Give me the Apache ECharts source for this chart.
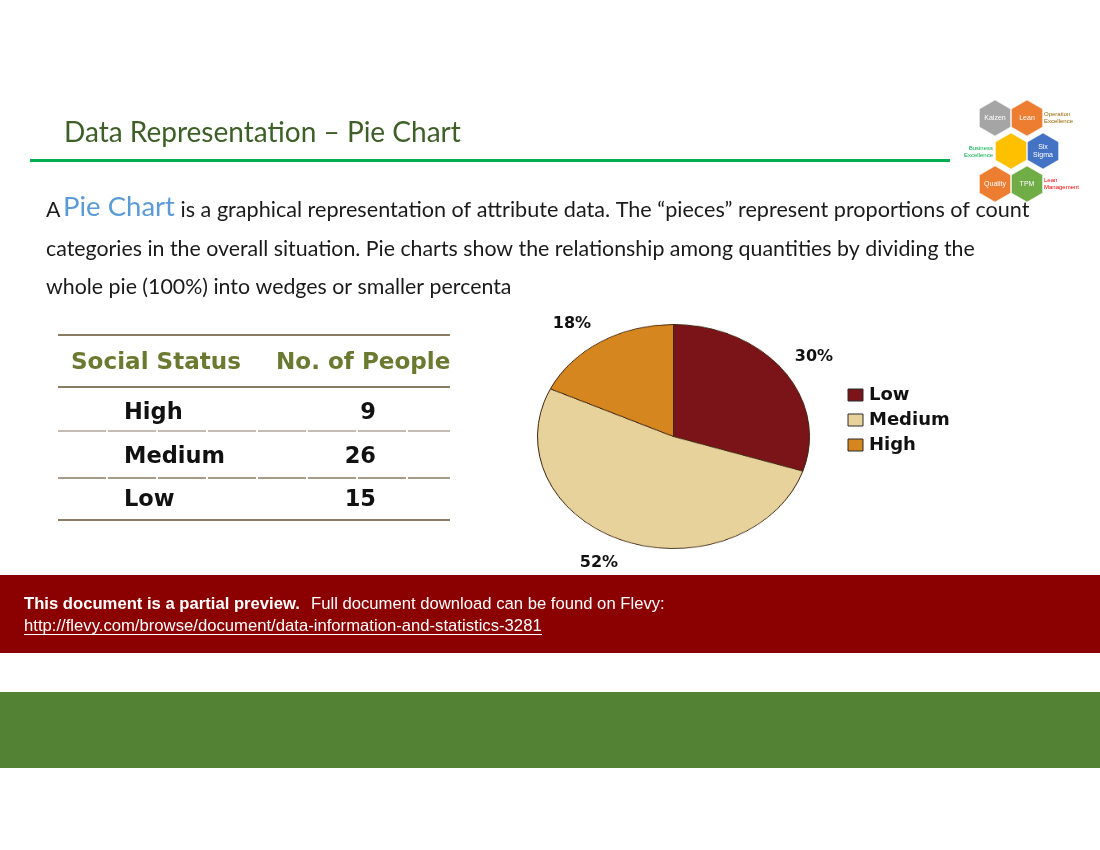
<!DOCTYPE html>
<html><head><meta charset="utf-8">
<script src="https://cdn.jsdelivr.net/npm/echarts@6/dist/echarts.min.js"></script>
<style>
html,body{margin:0;padding:0;background:#fff;overflow:hidden;}
#main{position:absolute;left:0;top:0;width:1100px;height:850px;}
#pie{position:absolute;left:533px;top:296px;width:281px;height:281px;transform:scaleY(0.824);transform-origin:50% 50%;}
</style></head><body>
<div id="main"></div><div id="pie"></div>
<script>
// ---------- data ----------
const categories = ['Low', 'Medium', 'High'];
const counts = [15, 26, 9];
const sliceColors = ['#7B1418', '#E6D29A', '#D6861E'];
const tableHeaders = ['Social Status', 'No. of People'];
const tableRows = ['High', 'Medium', 'Low'];
const tableCounts = [9, 26, 15];
const titleText = 'Data Representation \u2013 Pie Chart';
const bodyLines = [
  ' is a graphical representation of attribute data. The \u201cpieces\u201d represent proportions of count',
  'categories in the overall situation. Pie charts show the relationship among quantities by dividing the',
  'whole pie (100%) into wedges or smaller percenta'
];
const logoCells = [
  {name: 'Kaizen', color: '#A5A5A5', cx: 995, cy: 118},
  {name: 'Lean', color: '#ED7D31', cx: 1027, cy: 118},
  {name: '', color: '#FFC000', cx: 1011, cy: 151},
  {name: 'Six\nSigma', color: '#4472C4', cx: 1043, cy: 151},
  {name: 'Quality', color: '#ED7D31', cx: 995, cy: 184},
  {name: 'TPM', color: '#70AD47', cx: 1027, cy: 184}
];

// ---------- helpers ----------
const mctx = document.createElement('canvas').getContext('2d');
function fit(text, weight, family, target) {
  mctx.font = weight + ' 100px ' + family;
  return 100 * target / mctx.measureText(text).width;
}
function measure(text, weight, size, family) {
  mctx.font = weight + ' ' + size + 'px ' + family;
  return mctx.measureText(text).width;
}
function hexPoints(cx, cy, r) {
  const pts = [];
  for (let i = 0; i < 6; i++) {
    const a = Math.PI / 180 * (60 * i - 90);
    pts.push([cx + r * Math.cos(a), cy + r * Math.sin(a)]);
  }
  return pts;
}

const BODY = 'Lato';
const titleSize = fit(titleText, 'normal', BODY, 397);
const bodySize = fit(bodyLines[1], 'normal', BODY, 929);
const line1Size = fit(bodyLines[0], 'normal', BODY, 855);
const pieWordSize = fit('Pie Chart', 'normal', BODY, 112);
const tblFont = 'DejaVu Sans';
const headSize = fit(tableHeaders[0], 'bold', tblFont, 170);
const rowSize = fit('Medium', 'bold', tblFont, 101);
const LS = '"Liberation Sans"';
const bannerBold = 'This document is a partial preview.';
const bannerNorm = 'Full document download can be found on Flevy:';
const link = 'http://flevy.com/browse/document/data-information-and-statistics-3281';
const boldSize = fit(bannerBold, 'bold', LS, 276);
const normSize = fit(bannerNorm, 'normal', LS, 354);
const linkSize = fit(link, 'normal', LS, 518);

const g = [];
// title & rule
g.push({type: 'text', x: 64, y: 133, style: {text: titleText, fill: '#3E6028', font: 'normal ' + titleSize.toFixed(2) + 'px ' + BODY, verticalAlign: 'middle'}});
g.push({type: 'rect', shape: {x: 30, y: 159, width: 920, height: 3}, style: {fill: '#00B050'}});

// body text
g.push({type: 'text', x: 46, y: 210, style: {text: 'A', fill: '#1a1a1a', font: 'normal ' + bodySize.toFixed(2) + 'px ' + BODY, verticalAlign: 'middle'}});
g.push({type: 'text', x: 63, y: 207, style: {text: 'Pie Chart', fill: '#5B9BD5', font: 'normal ' + pieWordSize.toFixed(2) + 'px ' + BODY, verticalAlign: 'middle'}});
g.push({type: 'text', x: 175, y: 210, style: {text: bodyLines[0], fill: '#1a1a1a', font: 'normal ' + line1Size.toFixed(2) + 'px ' + BODY, verticalAlign: 'middle'}});
g.push({type: 'text', x: 46, y: 249, style: {text: bodyLines[1], fill: '#1a1a1a', font: 'normal ' + bodySize.toFixed(2) + 'px ' + BODY, verticalAlign: 'middle'}});
g.push({type: 'text', x: 46, y: 287, style: {text: bodyLines[2], fill: '#1a1a1a', font: 'normal ' + bodySize.toFixed(2) + 'px ' + BODY, verticalAlign: 'middle'}});

// logo
logoCells.forEach(c => {
  g.push({type: 'polygon', shape: {points: hexPoints(c.cx, c.cy, 18)}, style: {fill: c.color, stroke: '#fff', lineWidth: 0.5}});
  if (c.name) g.push({type: 'text', x: c.cx, y: c.cy, style: {text: c.name, fill: '#fff', font: '7px ' + LS, align: 'center', verticalAlign: 'middle', lineHeight: 8}});
});
g.push({type: 'text', x: 1044, y: 118, style: {text: 'Operation\nExcellence', fill: '#9C6500', font: '6px ' + LS, verticalAlign: 'middle', lineHeight: 7}});
g.push({type: 'text', x: 993, y: 152, style: {text: 'Business\nExcellence', fill: '#00B050', font: '6px ' + LS, align: 'right', verticalAlign: 'middle', lineHeight: 7}});
g.push({type: 'text', x: 1044, y: 184, style: {text: 'Lean\nManagement', fill: '#FF0000', font: '6px ' + LS, verticalAlign: 'middle', lineHeight: 7}});

// table
const lineCol = '#8A7B63';
g.push({type: 'rect', shape: {x: 58, y: 334, width: 392, height: 2}, style: {fill: lineCol}});
g.push({type: 'rect', shape: {x: 58, y: 386, width: 392, height: 2}, style: {fill: lineCol}});
g.push({type: 'line', shape: {x1: 58, y1: 431, x2: 450, y2: 431}, style: {stroke: lineCol, lineWidth: 1.2, lineDash: [48, 2]}});
g.push({type: 'line', shape: {x1: 58, y1: 478, x2: 450, y2: 478}, style: {stroke: lineCol, lineWidth: 1.6, lineDash: [48, 2]}});
g.push({type: 'rect', shape: {x: 58, y: 519, width: 392, height: 2}, style: {fill: lineCol}});
g.push({type: 'text', x: 71, y: 363, style: {text: tableHeaders[0], fill: '#6B7A30', font: 'bold ' + headSize.toFixed(2) + 'px "' + tblFont + '"', verticalAlign: 'middle'}});
g.push({type: 'text', x: 276, y: 363, style: {text: tableHeaders[1], fill: '#6B7A30', font: 'bold ' + headSize.toFixed(2) + 'px "' + tblFont + '"', verticalAlign: 'middle'}});
const rowY = [413, 457, 500];
tableRows.forEach((r, i) => {
  g.push({type: 'text', x: 124, y: rowY[i], style: {text: r, fill: '#111', font: 'bold ' + rowSize.toFixed(2) + 'px "' + tblFont + '"', verticalAlign: 'middle'}});
  g.push({type: 'text', x: 376, y: rowY[i], style: {text: String(tableCounts[i]), fill: '#111', font: 'bold ' + rowSize.toFixed(2) + 'px "' + tblFont + '"', align: 'right', verticalAlign: 'middle'}});
});

// pie percentage labels (computed from data)
const total = counts.reduce((a, b) => a + b, 0);
const labelPos = {Low: [814, 357], Medium: [599, 563], High: [572, 324]};
categories.forEach((c, i) => {
  const p = Math.round(counts[i] / total * 100) + '%';
  g.push({type: 'text', x: labelPos[c][0], y: labelPos[c][1], style: {text: p, fill: '#111', font: 'bold 16px "DejaVu Sans"', align: 'center', verticalAlign: 'middle'}});
});
// legend
const legY = [395, 420, 445];
categories.forEach((c, i) => {
  g.push({type: 'rect', shape: {x: 848, y: legY[i] - 6, width: 15, height: 12}, style: {fill: sliceColors[i], stroke: '#2a2a2a', lineWidth: 1}});
  g.push({type: 'text', x: 869, y: legY[i], style: {text: c, fill: '#111', font: 'bold 18px "DejaVu Sans"', verticalAlign: 'middle'}});
});

// preview banner
g.push({type: 'rect', shape: {x: 0, y: 575, width: 1100, height: 78}, style: {fill: '#8B0000'}});
g.push({type: 'text', x: 24, y: 604, style: {text: bannerBold, fill: '#fff', font: 'bold ' + boldSize.toFixed(2) + 'px ' + LS, verticalAlign: 'middle'}});
g.push({type: 'text', x: 311, y: 604, style: {text: bannerNorm, fill: '#fff', font: 'normal ' + normSize.toFixed(2) + 'px ' + LS, verticalAlign: 'middle'}});
g.push({type: 'text', x: 24, y: 626, style: {text: link, fill: '#fff', font: 'normal ' + linkSize.toFixed(2) + 'px ' + LS, verticalAlign: 'middle'}});
g.push({type: 'rect', shape: {x: 24, y: 634, width: 518, height: 1}, style: {fill: '#fff'}});
// green band
g.push({type: 'rect', shape: {x: 0, y: 692, width: 1100, height: 76}, style: {fill: '#548235'}});

const main = echarts.init(document.getElementById('main'), null, {renderer: 'canvas'});
main.setOption({animation: false, backgroundColor: '#fff', graphic: {elements: g}});

const pie = echarts.init(document.getElementById('pie'), null, {renderer: 'canvas'});
pie.setOption({
  animation: false,
  series: [{
    type: 'pie', center: ['50%', '50%'], radius: 136, startAngle: 90, clockwise: true,
    silent: true, label: {show: false}, labelLine: {show: false},
    itemStyle: {borderColor: '#3d2410', borderWidth: 1},
    data: categories.map((c, i) => ({name: c, value: counts[i], itemStyle: {color: sliceColors[i]}}))
  }]
});
</script>
</body></html>
